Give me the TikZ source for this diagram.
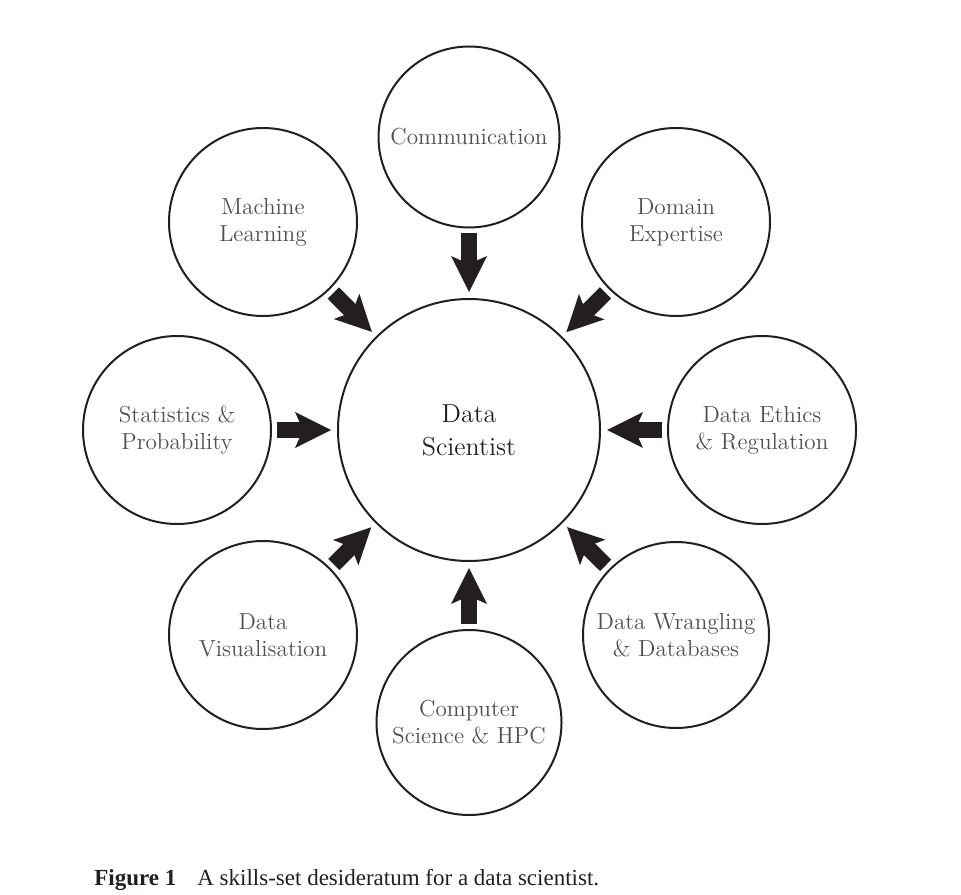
\documentclass[tikz,border=0pt]{standalone}
\usepackage{fontspec}
\newfontfamily\capfont{Liberation Serif}
\usetikzlibrary{arrows.meta}
\definecolor{ink}{HTML}{231F20}
\definecolor{txt}{HTML}{505052}
\begin{document}
\begin{tikzpicture}[x=0.5pt,y=0.5pt,
  skill/.style={circle,draw=ink,line width=1pt,inner sep=0pt,align=center,
    text=txt,font=\fontsize{11.6}{13.5}\selectfont},
  hub/.style={circle,draw=ink,line width=1pt,inner sep=0pt,align=center,
    text=ink,font=\fontsize{13}{16.5}\selectfont,minimum size=262*0.5pt},
  bigarrow/.style={draw=ink,line width=8pt,
    -{Stealth[length=18pt,width=18pt,inset=4pt,line width=0pt]},
    shorten <=2.5pt,shorten >=3pt}]
\useasboundingbox (0,0) rectangle (961,894);
\node[hub] (ds) at (469,464) {Data\\Scientist};
\node[skill,minimum size=181*0.5pt] (comm) at (469,757) {Communication};
\node[skill,minimum size=188*0.5pt] (ml) at (263,672) {Machine\\Learning};
\node[skill,minimum size=188*0.5pt] (de) at (676,672) {Domain\\Expertise};
\node[skill,minimum size=188*0.5pt] (stat) at (177,464) {Statistics \&\\Probability};
\node[skill,minimum size=188*0.5pt] (eth) at (762,464) {Data Ethics\\\& Regulation};
\node[skill,minimum size=188*0.5pt] (vis) at (263,259) {Data\\Visualisation};
\node[skill,minimum size=185*0.5pt] (cs) at (469,171.5) {Computer\\Science \& HPC};
\node[skill,minimum size=186*0.5pt] (dw) at (676,259) {Data Wrangling\\\& Databases};
\foreach \s in {comm,ml,de,stat,eth,vis,cs,dw}
  \draw[bigarrow] (\s) -- (ds);
\node[anchor=base west,inner sep=0pt,text=ink,font=\capfont\fontsize{11.5}{13}\selectfont] (cap) at (94,9)
  {\textbf{Figure 1}\hspace{10.5pt}A skills-set desideratum for a data scientist.};
\end{tikzpicture}
\end{document}
